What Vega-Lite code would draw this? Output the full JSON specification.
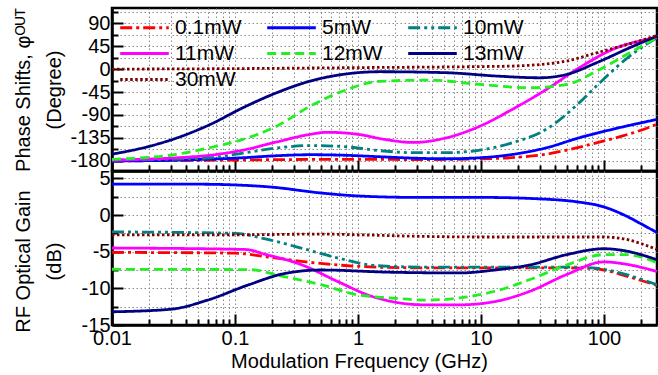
{
  "$schema": "https://vega.github.io/schema/vega-lite/v6.json",
  "background": "white",
  "padding": {"left": 11, "top": 6, "right": 1, "bottom": 0},
  "spacing": 0,
  "bounds": "flush",
  "config": {
    "font": "Liberation Sans",
    "view": {"stroke": "black", "strokeWidth": 2.5},
    "axis": {
      "domainColor": "black", "domainWidth": 2.5,
      "tickColor": "black", "tickWidth": 2,
      "gridColor": "#8a8a8a", "gridDash": [1.5, 2.5], "gridWidth": 1,
      "labelFont": "Liberation Sans", "labelFontSize": 20, "labelColor": "black", "labelFlush": false,
      "titleFont": "Liberation Sans", "titleFontSize": 20, "titleFontWeight": "normal", "titleColor": "black"
    },
    "legend": {
      "orient": "none", "legendX": 4, "legendY": 9, "direction": "horizontal", "columns": 3, "padding": 0,
      "symbolType": "M-2.7,0H2.7", "symbolSize": 324, "symbolStrokeWidth": 2.8, "symbolOffset": 18,
      "labelFont": "Liberation Sans", "labelFontSize": 21, "labelColor": "black", "labelOffset": 20,
      "columnPadding": 19, "rowPadding": 4
    }
  },
  "datasets": {
    "phase": [
      {"s": "0.1mW", "f": 0.01, "v": -180}, {"s": "0.1mW", "f": 0.03, "v": -179.5}, {"s": "0.1mW", "f": 0.1, "v": -178.5}, {"s": "0.1mW", "f": 0.3, "v": -177.5}, {"s": "0.1mW", "f": 1, "v": -177}, {"s": "0.1mW", "f": 3, "v": -177.5}, {"s": "0.1mW", "f": 10, "v": -176}, {"s": "0.1mW", "f": 20, "v": -173}, {"s": "0.1mW", "f": 30, "v": -169}, {"s": "0.1mW", "f": 50, "v": -159}, {"s": "0.1mW", "f": 87, "v": -144.6}, {"s": "0.1mW", "f": 120, "v": -136}, {"s": "0.1mW", "f": 162, "v": -127}, {"s": "0.1mW", "f": 200, "v": -120}, {"s": "0.1mW", "f": 270, "v": -108},
      {"s": "5mW", "f": 0.01, "v": -180.5}, {"s": "5mW", "f": 0.034, "v": -178.6}, {"s": "5mW", "f": 0.116, "v": -174}, {"s": "5mW", "f": 0.218, "v": -170}, {"s": "5mW", "f": 0.41, "v": -168}, {"s": "5mW", "f": 0.756, "v": -169}, {"s": "5mW", "f": 1.5, "v": -172}, {"s": "5mW", "f": 3, "v": -175}, {"s": "5mW", "f": 5.2, "v": -176}, {"s": "5mW", "f": 9.8, "v": -174}, {"s": "5mW", "f": 18, "v": -167.5}, {"s": "5mW", "f": 34, "v": -154.4}, {"s": "5mW", "f": 63, "v": -134.8}, {"s": "5mW", "f": 118, "v": -118}, {"s": "5mW", "f": 270, "v": -98.7},
      {"s": "10mW", "f": 0.01, "v": -178.6}, {"s": "10mW", "f": 0.03, "v": -177}, {"s": "10mW", "f": 0.063, "v": -174}, {"s": "10mW", "f": 0.116, "v": -165}, {"s": "10mW", "f": 0.218, "v": -155}, {"s": "10mW", "f": 0.41, "v": -150}, {"s": "10mW", "f": 0.756, "v": -152}, {"s": "10mW", "f": 1.5, "v": -160}, {"s": "10mW", "f": 2.8, "v": -164}, {"s": "10mW", "f": 5.2, "v": -164}, {"s": "10mW", "f": 9.8, "v": -159}, {"s": "10mW", "f": 18, "v": -144.6}, {"s": "10mW", "f": 34, "v": -118}, {"s": "10mW", "f": 63, "v": -66}, {"s": "10mW", "f": 87, "v": -33}, {"s": "10mW", "f": 162, "v": 25.7}, {"s": "10mW", "f": 270, "v": 62},
      {"s": "11mW", "f": 0.01, "v": -178.6}, {"s": "11mW", "f": 0.034, "v": -174}, {"s": "11mW", "f": 0.063, "v": -169}, {"s": "11mW", "f": 0.116, "v": -159}, {"s": "11mW", "f": 0.218, "v": -143}, {"s": "11mW", "f": 0.41, "v": -128}, {"s": "11mW", "f": 0.56, "v": -124}, {"s": "11mW", "f": 1.0, "v": -128}, {"s": "11mW", "f": 1.65, "v": -138}, {"s": "11mW", "f": 2.8, "v": -144}, {"s": "11mW", "f": 5.2, "v": -135}, {"s": "11mW", "f": 9.8, "v": -112}, {"s": "11mW", "f": 18, "v": -79}, {"s": "11mW", "f": 34, "v": -40}, {"s": "11mW", "f": 63, "v": 2.7}, {"s": "11mW", "f": 118, "v": 38.8}, {"s": "11mW", "f": 270, "v": 62},
      {"s": "12mW", "f": 0.01, "v": -177}, {"s": "12mW", "f": 0.018, "v": -174}, {"s": "12mW", "f": 0.034, "v": -167}, {"s": "12mW", "f": 0.063, "v": -154}, {"s": "12mW", "f": 0.116, "v": -138}, {"s": "12mW", "f": 0.218, "v": -112}, {"s": "12mW", "f": 0.41, "v": -72.5}, {"s": "12mW", "f": 0.756, "v": -43}, {"s": "12mW", "f": 1.5, "v": -24}, {"s": "12mW", "f": 3.8, "v": -21.5}, {"s": "12mW", "f": 9.8, "v": -30}, {"s": "12mW", "f": 25, "v": -36.6}, {"s": "12mW", "f": 50, "v": -30}, {"s": "12mW", "f": 87, "v": -4}, {"s": "12mW", "f": 162, "v": 32}, {"s": "12mW", "f": 270, "v": 62},
      {"s": "13mW", "f": 0.01, "v": -167}, {"s": "13mW", "f": 0.018, "v": -154.4}, {"s": "13mW", "f": 0.034, "v": -134.8}, {"s": "13mW", "f": 0.063, "v": -108.5}, {"s": "13mW", "f": 0.116, "v": -75.8}, {"s": "13mW", "f": 0.218, "v": -46.4}, {"s": "13mW", "f": 0.41, "v": -23.4}, {"s": "13mW", "f": 0.756, "v": -10.3}, {"s": "13mW", "f": 1.5, "v": -5.1}, {"s": "13mW", "f": 5.2, "v": -7}, {"s": "13mW", "f": 13.4, "v": -13.6}, {"s": "13mW", "f": 30, "v": -17}, {"s": "13mW", "f": 50, "v": -10.3}, {"s": "13mW", "f": 87, "v": 12.5}, {"s": "13mW", "f": 162, "v": 42}, {"s": "13mW", "f": 270, "v": 65},
      {"s": "30mW", "f": 0.01, "v": 0}, {"s": "30mW", "f": 0.1, "v": 1}, {"s": "30mW", "f": 1, "v": 3}, {"s": "30mW", "f": 10, "v": 5}, {"s": "30mW", "f": 18, "v": 6}, {"s": "30mW", "f": 30, "v": 9}, {"s": "30mW", "f": 50, "v": 16}, {"s": "30mW", "f": 87, "v": 32}, {"s": "30mW", "f": 174, "v": 52}, {"s": "30mW", "f": 270, "v": 66}
    ],
    "gain": [
      {"s": "0.1mW", "f": 0.01, "v": -5.1}, {"s": "0.1mW", "f": 0.1, "v": -5.2}, {"s": "0.1mW", "f": 0.18, "v": -5.7}, {"s": "0.1mW", "f": 0.38, "v": -6.4}, {"s": "0.1mW", "f": 1, "v": -7.0}, {"s": "0.1mW", "f": 3, "v": -7.2}, {"s": "0.1mW", "f": 10, "v": -7.2}, {"s": "0.1mW", "f": 50, "v": -7.2}, {"s": "0.1mW", "f": 80, "v": -7.3}, {"s": "0.1mW", "f": 100, "v": -7.5}, {"s": "0.1mW", "f": 150, "v": -8.3}, {"s": "0.1mW", "f": 270, "v": -9.6},
      {"s": "5mW", "f": 0.01, "v": 4.2}, {"s": "5mW", "f": 0.05, "v": 4.2}, {"s": "5mW", "f": 0.1, "v": 4.1}, {"s": "5mW", "f": 0.2, "v": 3.8}, {"s": "5mW", "f": 0.5, "v": 3.0}, {"s": "5mW", "f": 1, "v": 2.6}, {"s": "5mW", "f": 3, "v": 2.4}, {"s": "5mW", "f": 10, "v": 2.4}, {"s": "5mW", "f": 30, "v": 2.2}, {"s": "5mW", "f": 60, "v": 1.8}, {"s": "5mW", "f": 100, "v": 1.1}, {"s": "5mW", "f": 150, "v": -0.1}, {"s": "5mW", "f": 200, "v": -1.2}, {"s": "5mW", "f": 270, "v": -2.4},
      {"s": "10mW", "f": 0.01, "v": -2.3}, {"s": "10mW", "f": 0.1, "v": -2.5}, {"s": "10mW", "f": 0.18, "v": -3.3}, {"s": "10mW", "f": 0.38, "v": -4.7}, {"s": "10mW", "f": 0.68, "v": -5.85}, {"s": "10mW", "f": 1.4, "v": -6.9}, {"s": "10mW", "f": 3.5, "v": -7.1}, {"s": "10mW", "f": 10, "v": -7.1}, {"s": "10mW", "f": 50, "v": -7.1}, {"s": "10mW", "f": 80, "v": -7.2}, {"s": "10mW", "f": 100, "v": -7.4}, {"s": "10mW", "f": 150, "v": -8.1}, {"s": "10mW", "f": 270, "v": -9.5},
      {"s": "11mW", "f": 0.01, "v": -4.5}, {"s": "11mW", "f": 0.12, "v": -4.7}, {"s": "11mW", "f": 0.18, "v": -5.4}, {"s": "11mW", "f": 0.35, "v": -6.8}, {"s": "11mW", "f": 0.68, "v": -9.05}, {"s": "11mW", "f": 1.3, "v": -11.1}, {"s": "11mW", "f": 3.5, "v": -12.25}, {"s": "11mW", "f": 6.7, "v": -12.25}, {"s": "11mW", "f": 13, "v": -11.8}, {"s": "11mW", "f": 25, "v": -10.4}, {"s": "11mW", "f": 50, "v": -8.1}, {"s": "11mW", "f": 100, "v": -6.4}, {"s": "11mW", "f": 150, "v": -6.7}, {"s": "11mW", "f": 270, "v": -7.7},
      {"s": "12mW", "f": 0.01, "v": -7.4}, {"s": "12mW", "f": 0.13, "v": -7.45}, {"s": "12mW", "f": 0.25, "v": -8.4}, {"s": "12mW", "f": 0.5, "v": -9.5}, {"s": "12mW", "f": 1, "v": -10.9}, {"s": "12mW", "f": 1.8, "v": -11.3}, {"s": "12mW", "f": 3.5, "v": -11.6}, {"s": "12mW", "f": 6.7, "v": -11.3}, {"s": "12mW", "f": 13, "v": -10.4}, {"s": "12mW", "f": 25, "v": -8.8}, {"s": "12mW", "f": 50, "v": -6.8}, {"s": "12mW", "f": 100, "v": -5.4}, {"s": "12mW", "f": 150, "v": -5.4}, {"s": "12mW", "f": 270, "v": -6.5},
      {"s": "13mW", "f": 0.01, "v": -13.2}, {"s": "13mW", "f": 0.03, "v": -12.85}, {"s": "13mW", "f": 0.06, "v": -11.6}, {"s": "13mW", "f": 0.13, "v": -9.5}, {"s": "13mW", "f": 0.25, "v": -8.0}, {"s": "13mW", "f": 0.5, "v": -7.5}, {"s": "13mW", "f": 1.8, "v": -7.8}, {"s": "13mW", "f": 6.7, "v": -7.9}, {"s": "13mW", "f": 13, "v": -7.5}, {"s": "13mW", "f": 25, "v": -6.8}, {"s": "13mW", "f": 50, "v": -5.4}, {"s": "13mW", "f": 100, "v": -4.6}, {"s": "13mW", "f": 150, "v": -4.9}, {"s": "13mW", "f": 270, "v": -6.1},
      {"s": "30mW", "f": 0.01, "v": -2.7}, {"s": "30mW", "f": 0.1, "v": -2.7}, {"s": "30mW", "f": 0.5, "v": -2.6}, {"s": "30mW", "f": 1, "v": -2.7}, {"s": "30mW", "f": 3, "v": -2.9}, {"s": "30mW", "f": 10, "v": -3.0}, {"s": "30mW", "f": 100, "v": -3.0}, {"s": "30mW", "f": 150, "v": -3.3}, {"s": "30mW", "f": 200, "v": -3.9}, {"s": "30mW", "f": 270, "v": -4.7}
    ]
  },
  "resolve": {"legend": {"color": "independent", "strokeDash": "independent"}},
  "vconcat": [
    {
      "width": 545, "height": 163,
      "data": {"name": "phase"},
      "mark": {"type": "line", "strokeWidth": 2.8, "interpolate": "monotone", "clip": true},
      "encoding": {
        "x": {
          "field": "f", "type": "quantitative",
          "scale": {"type": "log", "domain": [0.01, 270], "nice": false},
          "axis": {
            "title": null, "labels": false, "grid": true,
            "values": [0.01,0.02,0.03,0.04,0.05,0.06,0.07,0.08,0.09,0.1,0.2,0.3,0.4,0.5,0.6,0.7,0.8,0.9,1,2,3,4,5,6,7,8,9,10,20,30,40,50,60,70,80,90,100,200],
            "tickSize": {"condition": {"test": "abs(log(datum.value)/LN10 - round(log(datum.value)/LN10)) < 0.001", "value": -11}, "value": -6}
          }
        },
        "y": {
          "field": "v", "type": "quantitative",
          "scale": {"domain": [-200, 120], "nice": false, "zero": false},
          "axis": {
            "values": [-180,-157.5,-135,-112.5,-90,-67.5,-45,-22.5,0,22.5,45,67.5,90,112.5],
            "labelExpr": "datum.value % 45 == 0 ? datum.value + '' : ''",
            "tickSize": {"condition": {"test": "datum.value % 45 == 0", "value": -11}, "value": -6},
            "labelPadding": 13,
            "grid": true,
            "title": ["Phase Shifts, φᴼᵁᵀ", "(Degree)"],
            "titleAngle": 270, "titleBaseline": "bottom", "titleAlign": "center",
            "titleX": -79, "titleLineHeight": 31
          }
        },
        "color": {
          "field": "s", "type": "nominal",
          "scale": {"domain": ["0.1mW","5mW","10mW","11mW","12mW","13mW","30mW"], "range": ["#ff0000","#0000ff","#008080","#ff00ff","#22ee22","#000080","#800000"]},
          "legend": {"title": null}
        },
        "strokeDash": {
          "field": "s", "type": "nominal",
          "scale": {"domain": ["0.1mW","5mW","10mW","11mW","12mW","13mW","30mW"], "range": [[12,4,3,4],[1,0],[12,4,3,4,3,4],[1,0],[9,5],[1,0],[2.5,2.5]]},
          "legend": {"title": null}
        }
      }
    },
    {
      "width": 545, "height": 154,
      "data": {"name": "gain"},
      "mark": {"type": "line", "strokeWidth": 2.8, "interpolate": "monotone", "clip": true},
      "encoding": {
        "x": {
          "field": "f", "type": "quantitative",
          "scale": {"type": "log", "domain": [0.01, 270], "nice": false},
          "axis": {
            "grid": true, "format": "~g",
            "values": [0.01,0.02,0.03,0.04,0.05,0.06,0.07,0.08,0.09,0.1,0.2,0.3,0.4,0.5,0.6,0.7,0.8,0.9,1,2,3,4,5,6,7,8,9,10,20,30,40,50,60,70,80,90,100,200],
            "labelExpr": "abs(log(datum.value)/LN10 - round(log(datum.value)/LN10)) < 0.001 ? datum.label : ''",
            "tickSize": {"condition": {"test": "abs(log(datum.value)/LN10 - round(log(datum.value)/LN10)) < 0.001", "value": -11}, "value": -6},
            "labelPadding": 14,
            "title": "Modulation Frequency (GHz)",
            "titleX": 247, "titleY": 42, "titleBaseline": "alphabetic", "titleAlign": "center"
          }
        },
        "y": {
          "field": "v", "type": "quantitative",
          "scale": {"domain": [-15, 6], "nice": false, "zero": false},
          "axis": {
            "values": [-15,-12.5,-10,-7.5,-5,-2.5,0,2.5,5],
            "labelExpr": "datum.value % 5 == 0 ? datum.value + '' : ''",
            "tickSize": {"condition": {"test": "datum.value % 5 == 0", "value": -11}, "value": -6},
            "labelPadding": 13,
            "grid": true,
            "title": ["RF Optical Gain", "(dB)"],
            "titleAngle": 270, "titleBaseline": "bottom", "titleAlign": "center",
            "titleX": -79, "titleY": 90, "titleLineHeight": 31
          }
        },
        "color": {
          "field": "s", "type": "nominal",
          "scale": {"domain": ["0.1mW","5mW","10mW","11mW","12mW","13mW","30mW"], "range": ["#ff0000","#0000ff","#008080","#ff00ff","#22ee22","#000080","#800000"]},
          "legend": null
        },
        "strokeDash": {
          "field": "s", "type": "nominal",
          "scale": {"domain": ["0.1mW","5mW","10mW","11mW","12mW","13mW","30mW"], "range": [[12,4,3,4],[1,0],[12,4,3,4,3,4],[1,0],[9,5],[1,0],[2.5,2.5]]},
          "legend": null
        }
      }
    }
  ]
}
